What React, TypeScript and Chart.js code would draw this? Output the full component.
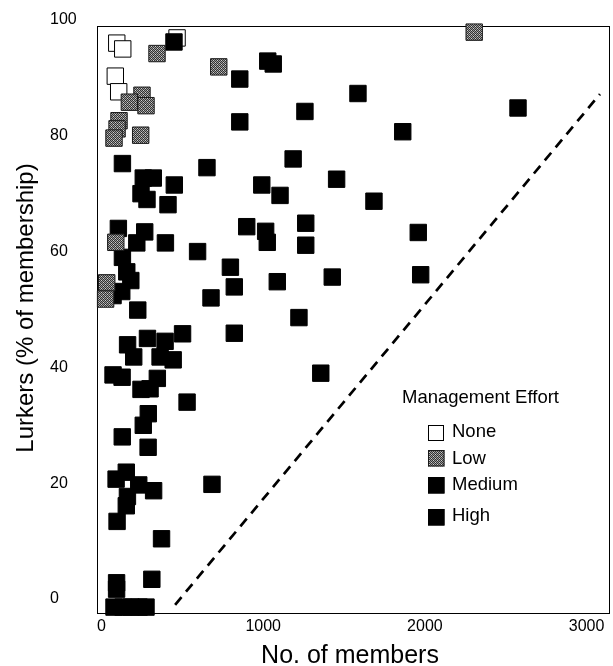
import React, { useEffect, useRef } from "react";
import { Chart, registerables } from "chart.js";

Chart.register(...registerables);

const categories = ["None", "Low", "Medium", "High"];

const noneX = [94, 131, 85, 106, 467];
const noneY = [96.0, 95.0, 90.3, 87.6, 96.9];

const lowX = [343, 250, 172, 275, 108, 96, 77, 242, 725, 2305, 88, 32, 25];
const lowY = [94.2, 87.0, 85.8, 85.2, 82.6, 81.2, 79.6, 80.1, 91.9, 97.9, 61.6, 54.6, 51.8];

const mediumX = [448, 129, 652, 258, 320, 450, 244, 281, 411, 104, 267, 218, 395, 594, 677, 129, 156, 181, 125, 71,
  224, 501, 284, 393, 161, 199, 362, 443, 71, 127, 345, 244, 300, 529, 289, 258, 128, 288, 153, 90,
  230, 322, 160, 153, 683, 96, 371, 93, 93, 311, 77, 133, 182, 232, 275];
const mediumY = [96.2, 75.2, 74.5, 72.7, 72.7, 71.5, 70.0, 69.0, 68.1, 64.0, 63.4, 61.5, 61.5, 60.0, 52.0, 59.0, 56.5, 55.0, 53.1, 52.4,
  49.9, 45.8, 45.0, 44.5, 43.9, 41.8, 41.8, 41.3, 38.7, 38.3, 38.1, 36.2, 36.3, 34.0, 32.0, 30.0, 28.0, 26.2, 21.9, 20.7,
  19.7, 18.7, 17.7, 16.1, 19.8, 13.4, 10.4, 2.8, 1.7, 3.4, -1.4, -1.4, -1.4, -1.4, -1.4];

const highX = [855, 1028, 1062, 855, 991, 1104, 1258, 1586, 2576, 1863, 1185, 1454, 1685, 1263, 1263, 898, 1015, 1025, 1959, 797,
  821, 1087, 1427, 1974, 1221, 1356, 821];
const highY = [89.8, 92.9, 92.4, 82.4, 71.5, 69.7, 84.2, 87.3, 84.8, 80.7, 76.0, 72.5, 68.7, 64.9, 61.1, 64.3, 63.5, 61.6, 63.3, 57.3,
  53.9, 54.8, 55.6, 56.0, 48.6, 39.0, 45.9];

const boundaryX = [455, 3083];
const boundaryY = [-1, 87.2];

const xTicks = [0, 1000, 2000, 3000];
const yTicks = [0, 20, 40, 60, 80, 100];

const xTitle = "No. of members";
const yTitle = "Lurkers (% of membership)";
const legendTitle = "Management Effort";

const FONT = "'Liberation Sans', Arial, Helvetica, sans-serif";

function pts(xs: number[], ys: number[]) {
  return xs.map((x, i) => ({ x, y: ys[i] }));
}

export default function App() {
  const ref = useRef<HTMLCanvasElement | null>(null);

  useEffect(() => {
    const canvas = ref.current;
    if (!canvas) return;
    const ctx = canvas.getContext("2d")!;

    const pc = document.createElement("canvas");
    pc.width = 4;
    pc.height = 4;
    const g = pc.getContext("2d")!;
    g.fillStyle = "#9a9a9a";
    g.fillRect(0, 0, 4, 4);
    g.fillStyle = "#333333";
    for (let i = 0; i < 4; i++) for (let j = 0; j < 4; j++) if ((i + j) % 2 === 0) g.fillRect(i, j, 1, 1);
    g.fillStyle = "#cfcfcf";
    g.fillRect(1, 0, 1, 1);
    g.fillRect(3, 2, 1, 1);
    const lowPattern = ctx.createPattern(pc, "repeat")!;

    const fills: any[] = ["#ffffff", lowPattern, "#000000", "#000000"];
    const borders = ["#000000", "#1a1a1a", "#000000", "#000000"];

    const decor = {
      id: "decor",
      beforeDatasetsDraw(chart: any) {
        const { left, right, top, bottom } = chart.chartArea;
        const c = chart.ctx;
        c.save();
        c.strokeStyle = "#000";
        c.lineWidth = 1;
        c.strokeRect(Math.round(left) - 0.5, Math.round(top) + 0.5, Math.round(right - left), Math.round(bottom - top));
        c.restore();
      },
      afterDraw(chart: any) {
        const c = chart.ctx;
        c.save();
        c.fillStyle = "#000";
        c.save();
        c.translate(33, 308);
        c.rotate(-Math.PI / 2);
        c.font = `24px ${FONT}`;
        c.textAlign = "center";
        c.textBaseline = "alphabetic";
        c.fillText(yTitle, 0, 0);
        c.restore();
        c.font = `25px ${FONT}`;
        c.textAlign = "center";
        c.textBaseline = "alphabetic";
        c.fillText(xTitle, 350, 663);
        c.font = `18.5px ${FONT}`;
        c.textAlign = "left";
        c.fillText(legendTitle, 402, 403);
        const rows = [
          { top: 425, size: 16, base: 437 },
          { top: 450, size: 16.5, base: 463.5 },
          { top: 477, size: 16.5, base: 490 },
          { top: 509, size: 16.5, base: 521 },
        ];
        categories.forEach((name, i) => {
          const r = rows[i];
          c.fillStyle = fills[i];
          c.fillRect(428, r.top, r.size, r.size);
          c.strokeStyle = borders[i];
          c.lineWidth = 1;
          c.strokeRect(428.5, r.top + 0.5, r.size - 1, r.size - 1);
          c.fillStyle = "#000";
          c.fillText(name, 452, r.base);
        });
        c.restore();
      },
    };

    const ptOpts = (i: number, order: number) => ({
      pointStyle: "rect" as const,
      pointRadius: 11.6,
      pointHoverRadius: 11.6,
      borderWidth: 1,
      backgroundColor: fills[i],
      borderColor: borders[i],
      order,
      clip: false as any,
    });

    const chart = new Chart(ctx, {
      type: "scatter",
      data: {
        datasets: [
          { label: categories[0], data: pts(noneX, noneY), ...ptOpts(0, 5) },
          { label: categories[1], data: pts(lowX, lowY), ...ptOpts(1, 2) },
          { label: categories[2], data: pts(mediumX, mediumY), ...ptOpts(2, 4) },
          { label: categories[3], data: pts(highX, highY), ...ptOpts(3, 3) },
          {
            type: "line" as any,
            label: "boundary",
            data: pts(boundaryX, boundaryY),
            borderColor: "#000",
            borderWidth: 2.7,
            borderDash: [10, 7],
            pointRadius: 0,
            showLine: true,
            fill: false,
            order: 1,
          } as any,
        ],
      },
      options: {
        animation: false,
        responsive: false,
        maintainAspectRatio: false,
        events: [],
        layout: { autoPadding: false, padding: { left: 50, right: 3, top: 26, bottom: 28 } },
        plugins: { legend: { display: false }, tooltip: { enabled: false }, title: { display: false } },
        scales: {
          x: {
            type: "linear",
            min: -22,
            max: 3145,
            afterBuildTicks: (s: any) => {
              s.ticks = xTicks.map((v) => ({ value: v }));
            },
            afterFit: (s: any) => {
              s.height = 25;
              s.paddingLeft = 0;
              s.paddingRight = 0;
            },
            grid: { display: false, drawTicks: false },
            border: { display: false },
            ticks: {
              font: { size: 16, family: FONT },
              color: "#000",
              padding: 4,
              maxRotation: 0,
              autoSkip: false,
              callback: (v: any) => String(v),
            },
          },
          y: {
            type: "linear",
            min: -2.42,
            max: 98.96,
            afterBuildTicks: (s: any) => {
              s.ticks = yTicks.map((v) => ({ value: v }));
            },
            afterFit: (s: any) => {
              s.width = 48;
            },
            grid: { display: false, drawTicks: false },
            border: { display: false },
            ticks: {
              crossAlign: "far",
              font: { size: 16, family: FONT },
              color: "#000",
              padding: 0,
              autoSkip: false,
              callback: (v: any) => String(v),
            },
          },
        },
      },
      plugins: [decor],
    });

    return () => chart.destroy();
  }, []);

  return (
    <div style={{ position: "absolute", left: 0, top: 0, width: 613, height: 666, background: "#fff" }}>
      <canvas ref={ref} width={613} height={666} style={{ display: "block" }} />
    </div>
  );
}
